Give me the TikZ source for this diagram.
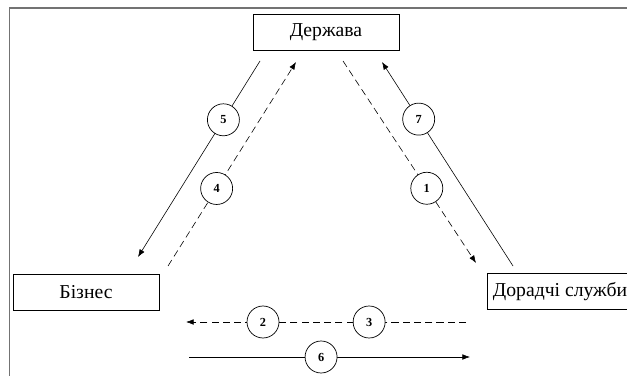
\documentclass[tikz,border=0pt]{standalone}
\usepackage{fontspec}
\setmainfont{Liberation Serif}
\usetikzlibrary{arrows.meta}
\tikzset{party/.style={draw, line width=0.6pt, minimum width=4.38cm, minimum height=1.08cm,
    inner sep=0pt, font=\fontsize{16.8}{20}\selectfont},
    num/.style={circle, draw, solid, fill=white, line width=0.6pt, minimum size=0.96cm, inner sep=0pt,
    font=\fontsize{10.5}{12}\selectfont\bfseries},
    flow/.style={line width=0.5pt, -{Latex[length=6.5pt, width=4.8pt]}},
    dflow/.style={flow, dash pattern=on 6pt off 3.6pt},
    }
\begin{document}
\begin{tikzpicture}[x=0.03cm, y=-0.03cm]
\useasboundingbox (0,0) rectangle (627,376);
\draw[line width=1.3pt, black!55] (9.5,8) rectangle (700,450);
% parties
\node[party] (state) at (326,32) {Держава};
\node[party] (business) at (86,292) {Бізнес};
\node[party] (advice) at (560,291.5) {Дорадчі служби};
% free ends
\coordinate (s5) at (260,61);   \coordinate (t5) at (138,257);
\coordinate (s4) at (168,266);  \coordinate (t4) at (296,62);
\coordinate (s1) at (343,61);   \coordinate (t1) at (476,263);
\coordinate (s7) at (513,266);  \coordinate (t7) at (382,62);
\coordinate (s2) at (466,322);  \coordinate (t2) at (186,322);
\coordinate (s6) at (189,357);  \coordinate (t6) at (470,357);
% flows
\draw[flow] (s5) -- node[num, pos=0.3] (n5) {5} (t5);
\draw[dflow] (s4) -- node[num, pos=0.38] (n4) {4} (t4);
\draw[dflow] (s1) -- node[num, pos=0.63] (n1) {1} (t1);
\draw[flow] (s7) -- node[num, pos=0.72] (n7) {7} (t7);
\draw[dflow] (s2) -- node[num, pos=0.346] (n3) {3} node[num, pos=0.725] (n2) {2} (t2);
\draw[flow] (s6) -- node[num, pos=0.47] (n6) {6} (t6);
\end{tikzpicture}
\end{document}
